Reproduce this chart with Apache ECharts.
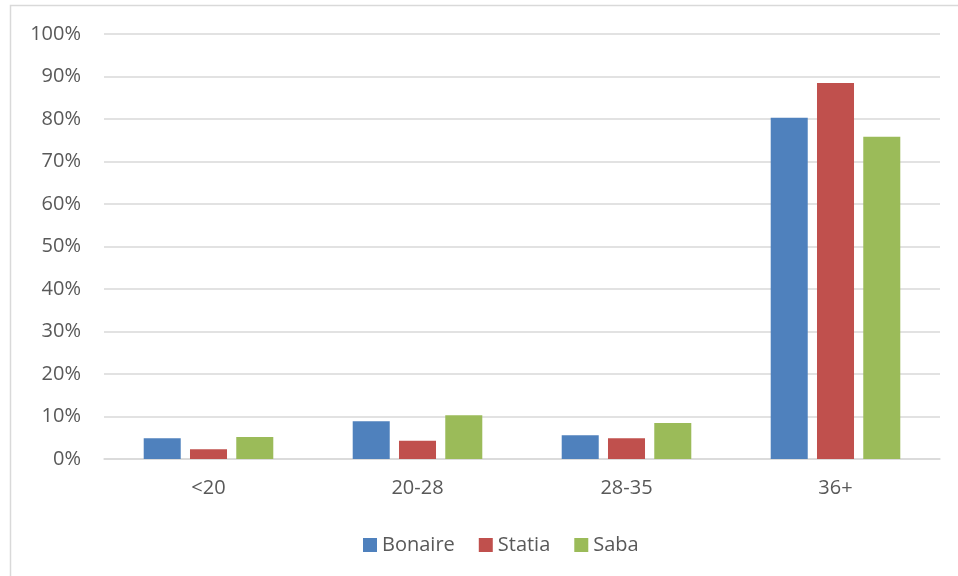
<!DOCTYPE html>
<html>
<head>
<meta charset="utf-8">
<script src="https://cdn.jsdelivr.net/npm/echarts@6/dist/echarts.min.js"></script>
<style>html,body{margin:0;padding:0;background:#fff}#c{width:958px;height:576px}</style>
</head>
<body>
<div id="c"></div>
<script>
var categories = ['<20', '20-28', '28-35', '36+'];
var bonaire = [4.9, 8.9, 5.6, 80.3];
var statia = [2.3, 4.3, 4.9, 88.5];
var saba = [5.2, 10.3, 8.5, 75.8];
var seriesNames = ['Bonaire', 'Statia', 'Saba'];
var colors = ['#4F81BD', '#C0504D', '#9BBB59'];

var chart = echarts.init(document.getElementById('c'));
var font = '"Open Sans", Lato, sans-serif';
function bar(name, data, color) {
  return { name: name, type: 'bar', data: data, itemStyle: { color: color },
    barGap: '25%', barCategoryGap: '38%' };
}
chart.setOption({
  animation: false,
  graphic: [{ type: 'rect', shape: { x: 10.5, y: 5.5, width: 1000, height: 700 },
    style: { fill: 'none', stroke: '#D9D9D9', lineWidth: 1.5 }, silent: true }],
  grid: { left: 104, right: 18, top: 34, bottom: 117, containLabel: false },
  legend: { top: 530, left: 358, itemWidth: 14, itemHeight: 14, itemGap: 24,
    icon: 'rect', data: seriesNames,
    textStyle: { fontFamily: font, fontSize: 20, color: '#595959' } },
  xAxis: { type: 'category', data: categories,
    axisLine: { lineStyle: { color: '#D9D9D9', width: 1.5 } },
    axisTick: { show: false },
    axisLabel: { fontFamily: font, fontSize: 20, color: '#595959', margin: 19 } },
  yAxis: { type: 'value', min: 0, max: 100, interval: 10,
    axisLine: { show: false }, axisTick: { show: false },
    splitLine: { lineStyle: { color: '#D9D9D9', width: 1.5 } },
    axisLabel: { fontFamily: font, fontSize: 20, color: '#595959', margin: 23,
      formatter: '{value}%' } },
  series: [bar(seriesNames[0], bonaire, colors[0]), bar(seriesNames[1], statia, colors[1]), bar(seriesNames[2], saba, colors[2])]
});
</script>
</body>
</html>
